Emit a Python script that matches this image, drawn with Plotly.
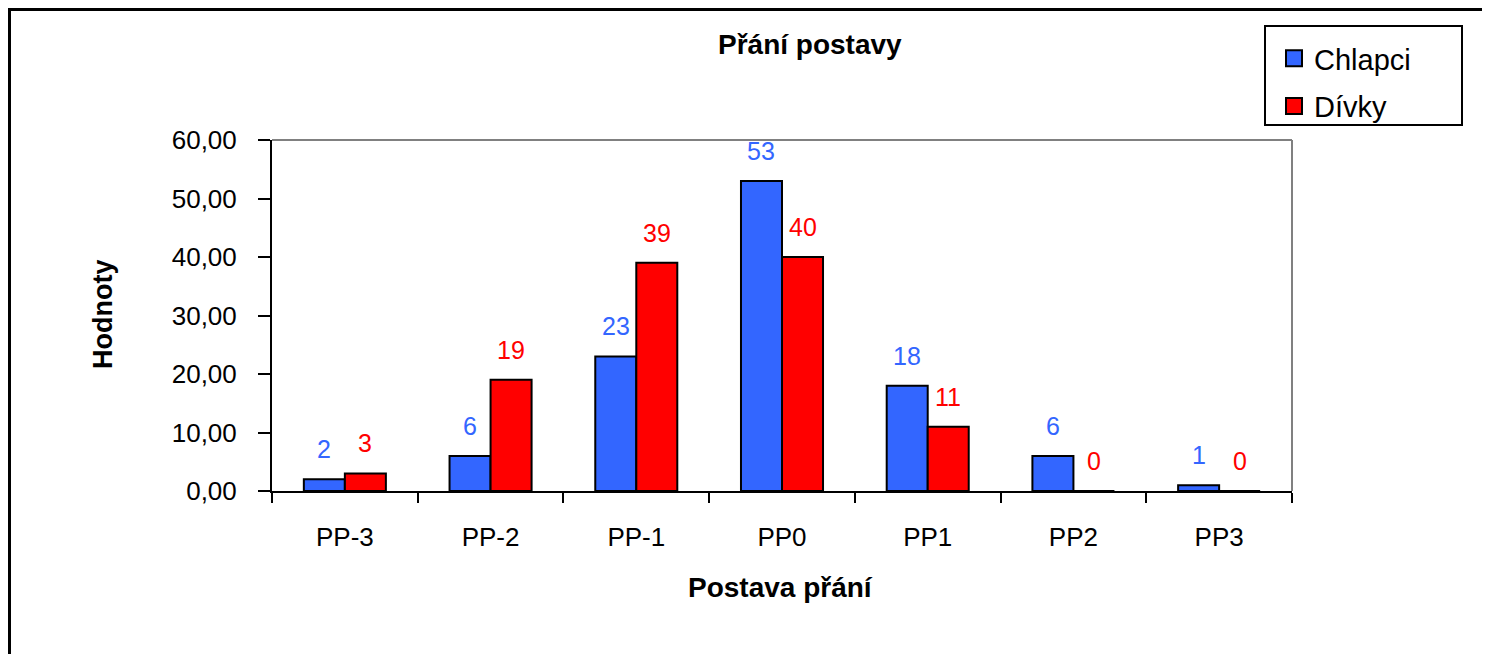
import plotly.graph_objects as go

categories = ["PP-3", "PP-2", "PP-1", "PP0", "PP1", "PP2", "PP3"]
chlapci = [2, 6, 23, 53, 18, 6, 1]
divky = [3, 19, 39, 40, 11, 0, 0]
series_names = ["Chlapci", "Dívky"]
colors = ["#3366FF", "#FF0000"]
y_ticks = [0, 10, 20, 30, 40, 50, 60]

W, H = 1490, 654
OFF = 8  # page body margin of the html page
# plot area box in screen pixels (reference picture)
SL, SR, ST, SB = 272, 1292, 140, 491
L, R, T, B = SL - OFF, SR - OFF, ST - OFF, SB - OFF
PW, PH = R - L, B - T


def px(x):
    return (x - OFF - L) / PW


def py(y):
    return (B - (y - OFF)) / PH


FONT = "Liberation Sans, Arial, sans-serif"

fig = go.Figure()
for name, vals, col in zip(series_names, [chlapci, divky], colors):
    fig.add_trace(go.Bar(
        x=categories, y=vals, name=name, legendgroup=name, showlegend=False,
        marker=dict(color=col, line=dict(color="black", width=2)),
    ))
# legend entries with larger square keys
for name, col in zip(series_names, colors):
    fig.add_trace(go.Scatter(
        x=[None], y=[None], mode="markers", name=name, legendgroup=name,
        marker=dict(symbol="square", size=16, color=col, line=dict(color="black", width=2)),
    ))

bargap = 0.437
bw = (1 - bargap) / 2
annotations = []
for si, (vals, col) in enumerate(zip([chlapci, divky], colors)):
    off = (-bw / 2) if si == 0 else (bw / 2)
    for i, v in enumerate(vals):
        annotations.append(dict(
            x=i + off, y=v, xref="x", yref="y", text=str(v), showarrow=False,
            yshift=30, yanchor="middle", xanchor="center",
            font=dict(family=FONT, size=25, color=col),
        ))

annotations += [
    dict(x=px(810), y=py(45), xref="paper", yref="paper", text="<b>Přání postavy</b>",
         showarrow=False, xanchor="center", yanchor="middle",
         font=dict(family=FONT, size=28, color="black")),
    dict(x=px(780), y=py(587), xref="paper", yref="paper", text="<b>Postava přání</b>",
         showarrow=False, xanchor="center", yanchor="middle",
         font=dict(family=FONT, size=28, color="black")),
    dict(x=px(103), y=py(315), xref="paper", yref="paper", text="<b>Hodnoty</b>",
         showarrow=False, xanchor="center", yanchor="middle", textangle=-90,
         font=dict(family=FONT, size=27, color="black")),
]

shapes = [
    # outer chart frame (extends beyond the visible picture at right/bottom)
    dict(type="rect", xref="paper", yref="paper", x0=px(9.5), x1=px(1510), y0=py(9.5), y1=py(720),
         line=dict(color="black", width=3), layer="below"),
    # gray top and right plot-area border
    dict(type="line", xref="paper", yref="paper", x0=0, x1=1, y0=1, y1=1,
         line=dict(color="#808080", width=2)),
    dict(type="line", xref="paper", yref="paper", x0=1, x1=1, y0=0, y1=1,
         line=dict(color="#808080", width=2)),
    # legend box
    dict(type="rect", xref="paper", yref="paper", x0=px(1265), x1=px(1462), y0=py(26), y1=py(125),
         line=dict(color="black", width=2)),
]

fig.update_layout(
    width=W, height=H,
    margin=dict(l=L, r=W - R, t=T, b=H - B, autoexpand=False),
    paper_bgcolor="white", plot_bgcolor="white",
    separators=", ",
    barmode="group", bargap=bargap, bargroupgap=0,
    showlegend=True,
    legend=dict(x=px(1274), y=py(33), xanchor="left", yanchor="top",
                bgcolor="rgba(0,0,0,0)", borderwidth=0,
                font=dict(family=FONT, size=29, color="black"),
                traceorder="grouped", tracegroupgap=7, itemwidth=30),
    annotations=annotations,
    shapes=shapes,
    font=dict(family=FONT, color="black"),
)
fig.update_xaxes(
    type="category", categoryorder="array", categoryarray=categories,
    showline=True, linecolor="black", linewidth=2,
    ticks="outside", tickson="boundaries", ticklen=10, tickwidth=2, tickcolor="black",
    ticklabelstandoff=22, tickfont=dict(family=FONT, size=26, color="black"),
    showgrid=False, zeroline=False, fixedrange=True,
)
fig.update_yaxes(
    range=[0, 60], tickvals=y_ticks, tickformat=".2f",
    showline=True, linecolor="black", linewidth=2,
    ticks="outside", ticklen=12, tickwidth=2, tickcolor="black",
    ticklabelstandoff=16, tickfont=dict(family=FONT, size=26, color="black"),
    showgrid=False, zeroline=False, fixedrange=True,
)

fig.write_html("out.html")
